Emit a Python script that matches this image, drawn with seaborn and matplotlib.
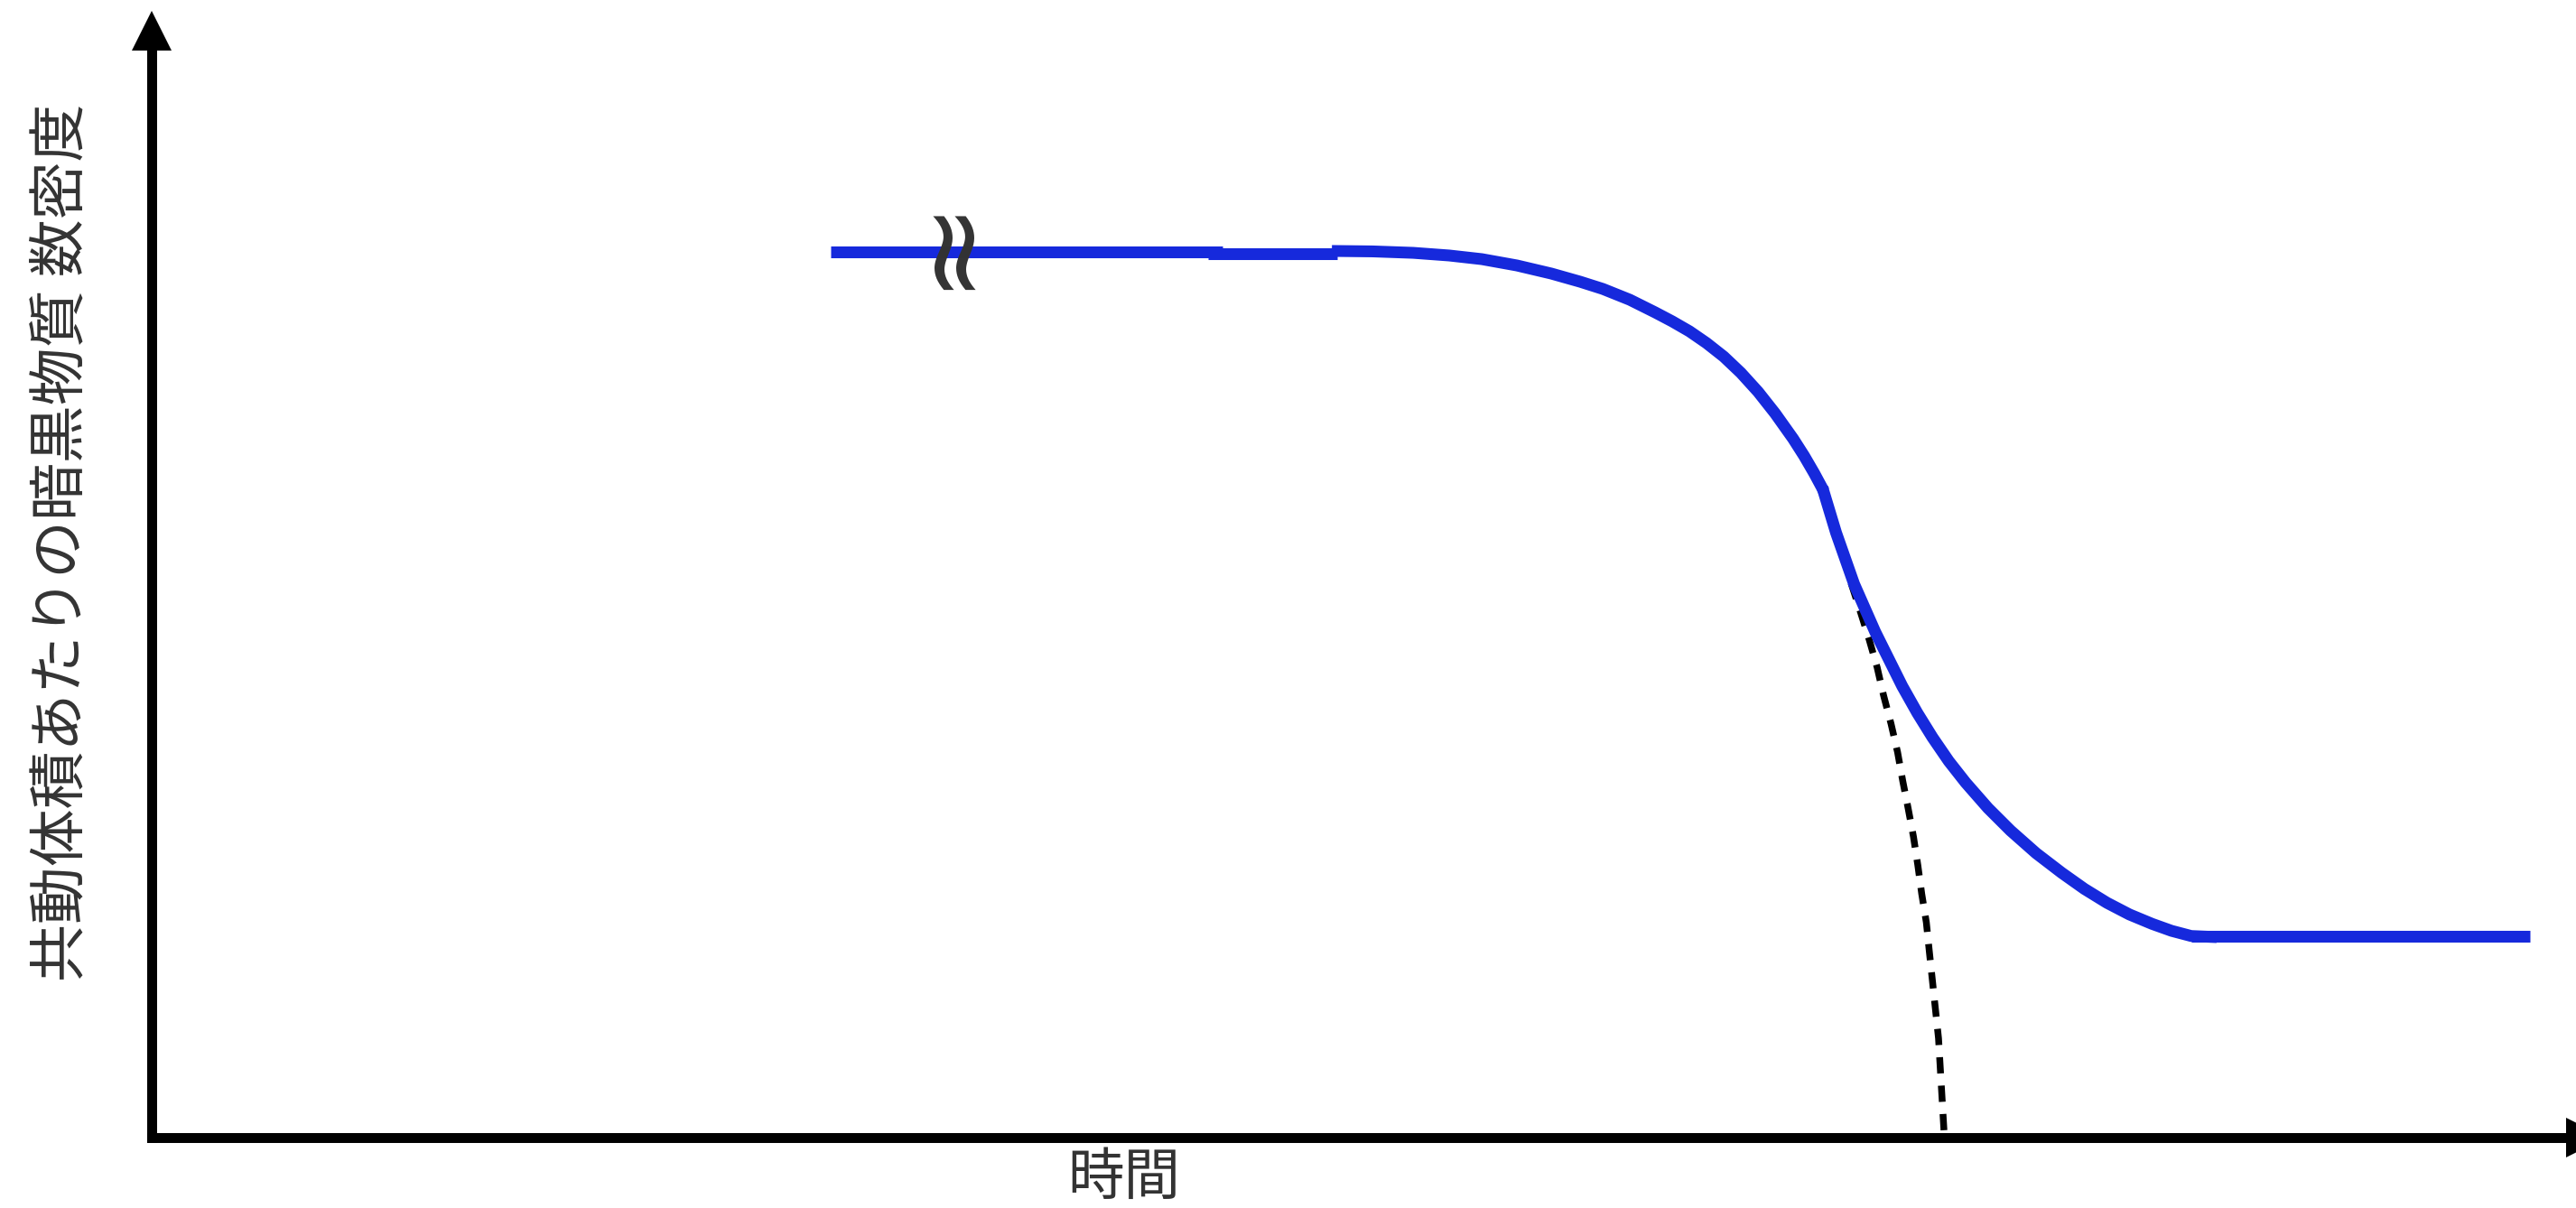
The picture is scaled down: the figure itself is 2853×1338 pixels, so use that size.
"""
Schematic of dark-matter freeze-out: comoving number density vs. time.

Outputs:
  out.png
"""

import matplotlib.pyplot as plt
import seaborn as sns

OUT_PATH = "out.png"

# curve pieces, in % of the axis range (x: time, y: comoving number density)
EARLY_X = [27.9, 44.0]
EARLY_Y = [80.0, 80.0]

PLATEAU_X = [43.4, 48.7]
PLATEAU_Y = [79.85, 79.85]

BEND_X = [48.48, 50.15, 51.82, 53.30, 54.64, 56.08, 57.49, 58.68, 59.61, 60.72,
          61.76, 62.46, 63.17, 63.87, 64.58, 65.28, 65.99, 66.69, 67.43, 67.88,
          68.29, 68.69]
BEND_Y = [80.10, 80.06, 79.93, 79.69, 79.36, 78.79, 78.06, 77.32, 76.67, 75.69,
          74.55, 73.74, 72.84, 71.78, 70.55, 69.09, 67.37, 65.42, 63.13, 61.58,
          60.03, 58.40]

DROP_X = [68.63, 69.19, 69.93, 70.80, 71.91, 72.53, 73.15, 73.82, 74.51, 75.43,
          76.36, 77.41, 78.46, 79.39, 80.32, 81.24, 82.17, 82.97, 83.78, 84.83]
DROP_Y = [58.73, 54.65, 50.02, 45.68, 40.78, 38.36, 36.16, 34.01, 32.08, 29.77,
          27.73, 25.69, 23.92, 22.47, 21.21, 20.16, 19.31, 18.68, 18.21, 18.11]

RELIC_X = [83.8, 97.7]
RELIC_Y = [18.2, 18.2]

# equilibrium (no freeze-out) continuation
EQ_X = [69.81, 70.18, 70.55, 70.88, 71.14, 71.45, 71.72, 71.93, 72.15,
        72.37, 72.55, 72.71, 72.90, 73.02, 73.40, 73.63]
EQ_Y = [50.08, 47.58, 45.00, 42.47, 39.97, 37.38, 34.80, 32.22, 29.77,
        27.19, 24.61, 22.02, 19.44, 16.86, 8.97, 0.41]

# axis-break mark on the early plateau: two upright waves
BREAK_MARK = "~\n~"
BREAK_POS = (32.71, 81.03)

XLABEL = "時間"
YLABEL = "共動体積あたりの暗黒物質 数密度"

BLUE = "#1629dc"
TEXT = "#333333"


def main():
    sns.set_theme(style="white")
    plt.rcParams["font.family"] = ["Noto Sans CJK JP", "DejaVu Sans"]

    fig = plt.figure(figsize=(28.53, 13.38), dpi=100)
    ax = fig.add_axes([0.0589, 0.0583, 0.9450, 0.9163])
    ax.set_xlim(0, 100)
    ax.set_ylim(0, 100)

    # dashed equilibrium curve goes under the blue one
    sns.lineplot(x=EQ_X, y=EQ_Y, sort=False, estimator=None, color="black",
                 linewidth=5.4, ax=ax, zorder=2)
    ax.lines[-1].set_dashes((2.4, 1.8))
    ax.lines[-1].set_dash_capstyle("butt")

    for xs, ys in [(EARLY_X, EARLY_Y), (PLATEAU_X, PLATEAU_Y), (BEND_X, BEND_Y),
                   (DROP_X, DROP_Y), (RELIC_X, RELIC_Y)]:
        sns.lineplot(x=xs, y=ys, sort=False, estimator=None, color=BLUE,
                     linewidth=9.4, ax=ax, zorder=3, solid_capstyle="butt",
                     solid_joinstyle="round")

    # tight line spacing pulls the two rotated waves close together
    ax.text(BREAK_POS[0], BREAK_POS[1], BREAK_MARK, rotation=90, ha="center",
            va="center", fontsize=94, linespacing=-0.03, color=TEXT, zorder=4,
            family=["DejaVu Sans"])

    # axes drawn as arrows
    for side in ["top", "right"]:
        ax.spines[side].set_visible(False)
    for side in ["left", "bottom"]:
        ax.spines[side].set_color("black")
        ax.spines[side].set_linewidth(7.9)
        ax.spines[side].set_capstyle("projecting")
    ax.plot(0, 1, marker="^", ms=31.7, mew=0, color="black",
            transform=ax.transAxes, clip_on=False)
    ax.plot(1, 0, marker=">", ms=31.7, mew=0, color="black",
            transform=ax.transAxes, clip_on=False)
    ax.set_xticks([])
    ax.set_yticks([])
    ax.set_xlabel("")
    ax.set_ylabel("")

    ax.text(0.3995, -0.0367, XLABEL, transform=ax.transAxes, ha="center",
            va="center", fontsize=45, color=TEXT)
    ax.text(-0.037, 0.538, YLABEL, transform=ax.transAxes, rotation=90,
            ha="center", va="center", fontsize=46, color=TEXT)

    fig.savefig(OUT_PATH, facecolor="white")
    plt.close(fig)


if __name__ == "__main__":
    main()
